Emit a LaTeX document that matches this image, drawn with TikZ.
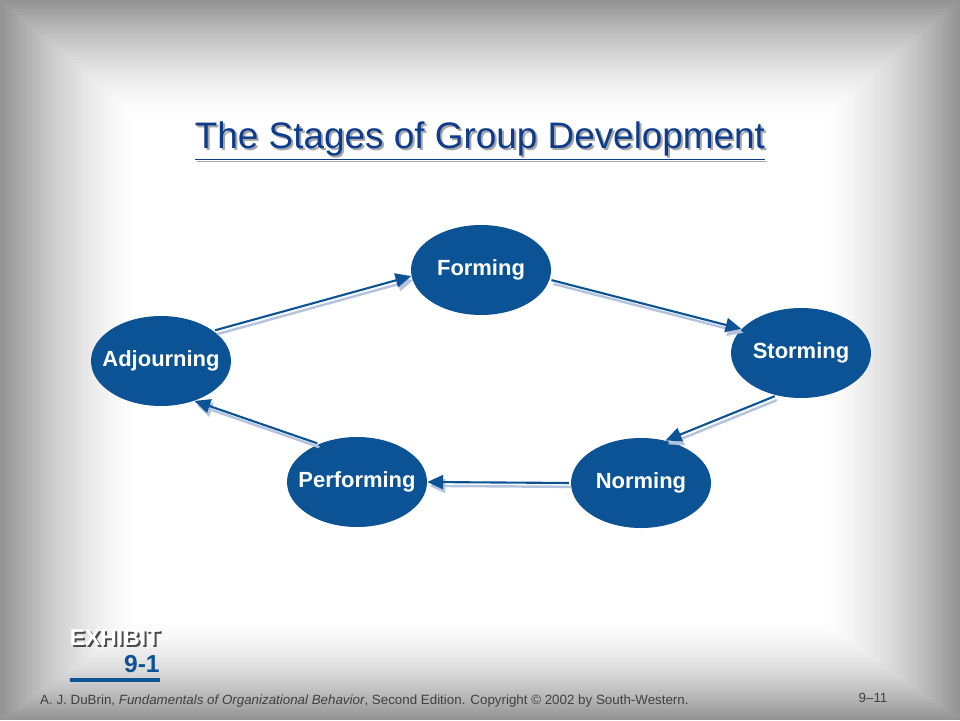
\documentclass[tikz,border=0pt]{standalone}
\usepackage{fontspec}
\setmainfont{Liberation Sans}
\usetikzlibrary{arrows.meta,shapes.geometric}
\definecolor{stageblue}{HTML}{0B5394}
\definecolor{titleblue}{HTML}{0D3C8C}
\definecolor{shadeblue}{HTML}{B4C4DE}
\tikzset{
  stage/.style={ellipse, fill=stageblue, minimum width=140*0.02cm, minimum height=90*0.02cm,
    text=white, font=\fontsize{12.5}{14}\selectfont\bfseries, inner xsep=-14pt, inner ysep=0pt},
  flow/.style={draw=stageblue, line width=1.2pt, -{Triangle[length=9pt,width=8pt]}, shorten <=1pt,
    preaction={draw=shadeblue, line width=1.4pt, -{Triangle[length=9pt,width=8pt]}, transform canvas={shift={(1.2pt,-2.2pt)}}}}
}
\begin{document}
\begin{tikzpicture}[x=0.02cm,y=-0.02cm]
  \useasboundingbox (0,0) rectangle (960,720);
  % background vignette
  \fill[black!42] (0,0) rectangle (960,720);
  \foreach \i in {0,...,40}
    \fill[black!\fpeval{42*(1-\i/40)^1.6}] (3.5*\i,3*\i) rectangle (960-3.5*\i,720-2.5*\i);
  % title
  \node[text=black!35, font=\fontsize{21}{24}\selectfont] at (482,143) {\underline{The Stages of Group Development}};
  \node[text=titleblue, font=\fontsize{21}{24}\selectfont] (title) at (480,141) {\underline{The Stages of Group Development}};
  % stages
  \node[stage] (forming) at (481,270) {Forming};
  \node[stage] (storming) at (801,353) {Storming};
  \node[stage] (norming) at (641,483) {Norming};
  \node[stage] (performing) at (357,482) {Performing};
  \node[stage] (adjourning) at (161,361) {Adjourning};
  \draw[flow] (forming.-8) -- (storming.158);
  \draw[flow] (storming.-120) -- (norming.60);
  \draw[flow] (norming.180) -- (performing.0);
  \draw[flow] (performing.135) -- (adjourning.-50);
  \draw[flow] (adjourning.30) -- (forming.185);
  % exhibit tag
  \node[text=black!70, font=\fontsize{13}{13}\selectfont\bfseries, inner sep=0pt] at (117,640) {EXHIBIT};
  \node[text=white, font=\fontsize{13}{13}\selectfont\bfseries, inner sep=0pt] (exhibit) at (115,638) {EXHIBIT};
  \node[text=stageblue, font=\fontsize{14}{14}\selectfont\bfseries, anchor=east, inner sep=0pt] (exnum) at (160,664) {9-1};
  \draw[stageblue, line width=2.2pt] (70,680) -- (160,680);
  % footer
  \node[anchor=west, font=\fontsize{7.6}{9}\selectfont, text=black!75] (cite) at (34,701)
    {A. J. DuBrin, \textit{Fundamentals of Organizational Behavior}, Second Edition. Copyright © 2002 by South-Western.};
  \node[font=\fontsize{7.6}{9}\selectfont, text=black!75] (page) at (873,698) {9–11};
\end{tikzpicture}
\end{document}
